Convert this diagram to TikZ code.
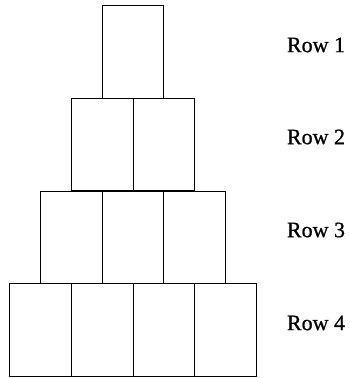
\documentclass[tikz,border=0pt]{standalone}
\usepackage{fontspec}
\setmainfont{Liberation Serif}
\newfontfamily\labelfont[FakeBold=0.8]{Liberation Serif}
\usetikzlibrary{positioning}

\tikzset{
    brick/.style={draw, line width=0.8pt, minimum width=61.6pt, minimum height=92.5pt, inner sep=0pt},
    rowlabel/.style={font=\labelfont\fontsize{22}{24}\selectfont}
}

\begin{document}
\begin{tikzpicture}[x=1pt, y=-1pt]
                \useasboundingbox (0,0) rectangle (350,378);
                %Row 1
                \node[brick] at (133,51.8)    (r1a) {};
                %Row 2
                \node[brick] at (102.2,144.5) (r2a) {};
                \node[brick] at (163.8,144.5) (r2b) {};
                %Row 3
                \node[brick] at (71.4,237.3)  (r3a) {};
                \node[brick] at (133,237.3)   (r3b) {};
                \node[brick] at (194.6,237.3) (r3c) {};
                %Row 4
                \node[brick] at (40.6,329.8)  (r4a) {};
                \node[brick] at (102.2,329.8) (r4b) {};
                \node[brick] at (163.8,329.8) (r4c) {};
                \node[brick] at (225.4,329.8) (r4d) {};

                %Labels
                \node[rowlabel] at (316,45)  (l1) {Row 1};
                \node[rowlabel] at (316,137) (l2) {Row 2};
                \node[rowlabel] at (316,230) (l3) {Row 3};
                \node[rowlabel] at (316,323) (l4) {Row 4};
            \end{tikzpicture}
\end{document}
